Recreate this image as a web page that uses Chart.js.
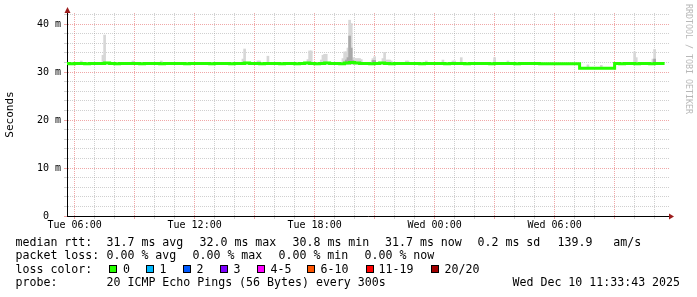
<!DOCTYPE html>
<html>
<head>
<meta charset="utf-8">
<script src="https://cdn.jsdelivr.net/npm/chart.js@4.4.1/dist/chart.umd.min.js"></script>
<style>
  html, body { margin: 0; padding: 0; background: #fff; }
  #wrap { position: relative; width: 697px; height: 297px; overflow: hidden; }
  #chart { position: absolute; left: 0; top: 0; }
  .t { position: absolute; font-family: 'DejaVu Sans Mono', monospace; font-size: 11.6px; line-height: 14px; white-space: pre; color: #000; }
  .box { position: absolute; width: 8px; height: 8px; box-sizing: border-box; border: 1px solid #000; }
  #mark { position: absolute; left: 684px; top: 4px; font-family: 'DejaVu Sans Mono', monospace; font-size: 8.3px; line-height: 9px; color: #b8b8b8; writing-mode: vertical-rl; white-space: pre; }
</style>
</head>
<body>
<div id="wrap">
  <canvas id="chart" width="697" height="297"></canvas>

  <span class="t" style="left:15.5px;top:235px">median rtt:</span>
  <span class="t" style="left:106.5px;top:235px">31.7 ms avg</span>
  <span class="t" style="left:199.5px;top:235px">32.0 ms max</span>
  <span class="t" style="left:292.5px;top:235px">30.8 ms min</span>
  <span class="t" style="left:385px;top:235px">31.7 ms now</span>
  <span class="t" style="left:477.5px;top:235px">0.2 ms sd</span>
  <span class="t" style="left:557.5px;top:235px">139.9   am/s</span>

  <span class="t" style="left:15.5px;top:248px">packet loss:</span>
  <span class="t" style="left:106.5px;top:248px">0.00 % avg</span>
  <span class="t" style="left:192.5px;top:248px">0.00 % max</span>
  <span class="t" style="left:278.5px;top:248px">0.00 % min</span>
  <span class="t" style="left:364.5px;top:248px">0.00 % now</span>

  <span class="t" style="left:15.5px;top:262px">loss color:</span>
  <div id="losses"></div>

  <span class="t" style="left:15.5px;top:275px">probe:</span>
  <span class="t" style="left:106.5px;top:275px">20 ICMP Echo Pings (56 Bytes) every 300s</span>
  <span class="t" style="left:512.5px;top:275px">Wed Dec 10 11:33:43 2025</span>

  <div id="mark">RRDTOOL / TOBI OETIKER</div>
</div>
<script>
// median rtt (ms), one value every 15 minutes starting Tue 05:30
const medianStart   = 'Tue 05:30';
const medianStepMin = 15;
const medianRtt = [
  31.8, 31.7, 31.8, 31.8, 31.7, 31.8,
  31.8, 31.8, 31.9, 31.8, 31.7, 31.8, 31.8, 31.8,
  31.8, 31.7, 31.8, 31.8, 31.8, 31.7, 31.8, 31.8,
  31.8, 31.8, 31.7, 31.8, 31.8, 31.8, 31.8, 31.7,
  31.8, 31.8, 31.8, 31.7, 31.8, 31.8, 31.9, 31.8,
  31.8, 31.7, 31.8, 31.8, 31.8, 31.7, 31.8, 31.8,
  31.7, 31.8, 31.9, 31.8, 31.7, 31.8, 31.9, 31.8,
  31.8, 31.7, 31.9, 32.0, 31.9, 31.8, 31.8, 31.7,
  31.8, 31.9, 31.8, 31.7, 31.8, 31.8, 31.8, 31.8,
  31.8, 31.7, 31.8, 31.8, 31.8, 31.8, 31.7, 31.8,
  31.8, 31.8, 31.7, 31.8, 31.8, 31.8, 31.8, 31.7,
  31.8, 31.8, 31.8, 31.8, 31.7, 31.8, 31.8, 31.8,
  31.8, 31.7, 31.7, 31.7, 31.7, 31.7, 31.7, 31.7,
  31.7,
  30.8, 30.8, 30.8, 30.8, 30.8, 30.8, 30.8,
  31.8, 31.7, 31.8, 31.8, 31.7, 31.8, 31.8, 31.7, 31.8, 31.8, 31.8,
];

// smoke: spread of the 20 pings in a 5 minute step (ms)
const smokeTimes = [
  'Tue 06:20', 'Tue 07:25', 'Tue 07:30', 'Tue 08:55', 'Tue 10:20',
  'Tue 14:25', 'Tue 14:30', 'Tue 15:10', 'Tue 15:15', 'Tue 15:40',
  'Tue 17:40', 'Tue 17:45', 'Tue 17:50', 'Tue 18:20', 'Tue 18:25',
  'Tue 18:30', 'Tue 18:35', 'Tue 19:25', 'Tue 19:30', 'Tue 19:35',
  'Tue 19:40', 'Tue 19:45', 'Tue 19:50', 'Tue 19:55', 'Tue 20:00',
  'Tue 20:05', 'Tue 20:10', 'Tue 20:15', 'Tue 20:20', 'Tue 20:55',
  'Tue 21:00', 'Tue 21:25', 'Tue 21:30', 'Tue 21:35', 'Tue 21:40',
  'Tue 21:45', 'Tue 21:50', 'Tue 22:35', 'Tue 22:40', 'Tue 23:35',
  'Wed 00:25', 'Wed 00:55', 'Wed 01:00', 'Wed 01:20', 'Wed 03:00',
  'Wed 03:40', 'Wed 05:05', 'Wed 07:40', 'Wed 08:20', 'Wed 10:00',
  'Wed 10:05', 'Wed 10:55', 'Wed 11:00',
];
const smokeLow = [
  31.7, 31.7, 31.7, 31.7, 31.7,
  31.7, 31.7, 31.7, 31.7, 31.7,
  31.7, 31.7, 31.7, 31.7, 31.7,
  31.7, 31.7, 31.7, 31.7, 31.7,
  31.7, 31.7, 31.7, 31.7, 31.7,
  31.7, 31.7, 31.7, 31.7, 31.7,
  31.7, 31.7, 31.7, 31.7, 31.7,
  31.7, 31.7, 31.7, 31.7, 31.7,
  31.7, 31.7, 31.7, 31.7, 31.7,
  31.7, 31.6, 30.8, 30.8, 31.7,
  31.7, 31.7, 31.7,
];
const smokeHigh = [
  32.3, 33.5, 37.7, 32.3, 32.3,
  32.7, 34.8, 32.3, 32.3, 33.3,
  32.6, 34.4, 34.4, 32.5, 33.5,
  33.7, 33.7, 32.8, 34.2, 34.2,
  35.0, 40.8, 40.1, 33.0, 32.8,
  32.8, 32.8, 32.8, 32.6, 32.8,
  33.2, 32.8, 34.1, 32.5, 32.5,
  32.5, 32.3, 32.3, 32.3, 32.3,
  32.5, 32.3, 32.3, 33.0, 33.0,
  32.3, 32.0, 31.5, 31.4, 34.2,
  33.0, 32.7, 34.7,
];

// denser part of the smoke (darker grey)
const coreTimes = ['Tue 19:35', 'Tue 19:40', 'Tue 19:45', 'Tue 19:50', 'Tue 19:55', 'Tue 20:55', 'Tue 21:00', 'Wed 11:00'];
const coreLow   = [31.7, 31.7, 31.7, 31.7, 31.7, 31.7, 31.7, 31.7];
const coreHigh  = [32.5, 33.0, 37.5, 35.0, 32.4, 32.4, 32.4, 32.7];

const xTickHours  = [6, 12, 18, 24, 30];
const xTickLabels = ['Tue 06:00', 'Tue 12:00', 'Tue 18:00', 'Wed 00:00', 'Wed 06:00'];
const yTickValues = [0, 10, 20, 30, 40];
const yTickLabels = ['0  ', '10 m', '20 m', '30 m', '40 m'];

const lossLabels = ['0', '1', '2', '3', '4-5', '6-10', '11-19', '20/20'];
const lossColors = ['#26ff00', '#00b8ff', '#0059ff', '#7e00ff', '#ff00ff', '#ff5500', '#ff0000', '#a10000'];

const FONT  = 'DejaVu Sans Mono';
const GRID  = 'rgba(150,150,150,0.45)';
const MGRID = 'rgba(225,80,80,0.5)';

function toHours(s) {
  const [day, hm] = s.split(' ');
  const [h, m] = hm.split(':').map(Number);
  return (day === 'Wed' ? 24 : 0) + h + m / 60;
}

// loss colour legend
const boxX   = [108.5, 145.5, 182.5, 219.5, 256.5, 306.5, 365.5, 430.5];
const labelX = [123, 159.5, 196.5, 233.5, 270.5, 320.5, 378.5, 444.5];
document.getElementById('losses').innerHTML = lossLabels.map((l, i) => `
  <div class="box" style="left:${boxX[i]}px;top:265px;background:${lossColors[i]}"></div>
  <span class="t" style="left:${labelX[i]}px;top:262px">${l}</span>
`).join('');

const t0 = toHours(medianStart);
const medianPts = medianRtt.map((v, i) => ({ x: t0 + i * medianStepMin / 60, y: v }));
const smokePts  = smokeTimes.map((t, i) => ({ x: toHours(t), y: [smokeLow[i], smokeHigh[i]] }));
const corePts   = coreTimes.map((t, i) => ({ x: toHours(t), y: [coreLow[i], coreHigh[i]] }));

const axisArrows = {
  id: 'axisArrows',
  afterDraw(chart) {
    const { ctx, chartArea: a } = chart;
    const x0 = Math.round(a.left) + 0.5;
    const y0 = Math.round(a.bottom) + 0.5;
    ctx.save();
    ctx.strokeStyle = '#000';
    ctx.lineWidth = 1;
    ctx.beginPath();
    ctx.moveTo(x0, a.top); ctx.lineTo(x0, a.top - 2);
    ctx.moveTo(a.right, y0); ctx.lineTo(a.right + 2, y0);
    ctx.stroke();
    ctx.fillStyle = '#9c1c1c';
    ctx.beginPath();
    ctx.moveTo(x0, a.top - 6); ctx.lineTo(x0 - 3, a.top); ctx.lineTo(x0 + 3, a.top);
    ctx.closePath(); ctx.fill();
    ctx.beginPath();
    ctx.moveTo(a.right + 5, y0); ctx.lineTo(a.right, y0 - 3); ctx.lineTo(a.right, y0 + 3);
    ctx.closePath(); ctx.fill();
    ctx.restore();
  }
};

const xColor = c => (c.tick && c.tick.value % 3 === 0 ? MGRID : GRID);
const yColor = c => (c.tick && c.tick.value % 10 === 0 ? MGRID : GRID);

new Chart(document.getElementById('chart'), {
  type: 'line',
  data: {
    datasets: [
      { type: 'line', data: medianPts, borderColor: '#26ff00', borderWidth: 3, pointRadius: 0,
        stepped: true, borderCapStyle: 'butt', order: 1 },
      { type: 'bar', data: corePts, backgroundColor: '#a9a9a9', barThickness: 2, grouped: false, order: 2 },
      { type: 'bar', data: smokePts, backgroundColor: '#d7d7d7', barThickness: 2, grouped: false, order: 3 },
    ],
  },
  options: {
    responsive: false,
    animation: false,
    devicePixelRatio: 1,
    layout: { padding: { top: 13, right: 28, bottom: 61, left: 0 } },
    plugins: { legend: { display: false }, tooltip: { enabled: false } },
    scales: {
      x: {
        type: 'linear', min: 5.62, max: 35.72, offset: false,
        grid: { offset: false, color: xColor, tickColor: xColor, tickLength: 3 },
        border: { color: '#000', width: 1, dash: [1, 1] },
        ticks: {
          stepSize: 1, autoSkip: false, maxRotation: 0, includeBounds: false, maxTicksLimit: 100,
          padding: 0, color: '#000', font: { family: FONT, size: 10 },
          callback: v => { const k = xTickHours.indexOf(v); return k >= 0 ? xTickLabels[k] : ''; },
        },
        afterFit: s => { s.height = 20; },
      },
      y: {
        min: 0, max: 42.3,
        grid: { color: yColor, tickColor: yColor, tickLength: 3 },
        border: { color: '#000', width: 1, dash: [1, 1] },
        ticks: {
          stepSize: 2, autoSkip: false, includeBounds: false, maxTicksLimit: 100,
          padding: 3, color: '#000', font: { family: FONT, size: 10 },
          callback: v => { const k = yTickValues.indexOf(v); return k >= 0 ? yTickLabels[k] : ''; },
        },
        title: { display: true, text: 'Seconds', color: '#000', font: { family: FONT, size: 11 }, padding: { top: 4, bottom: 0 } },
        afterFit: s => { s.width = 67; },
      },
    },
  },
  plugins: [axisArrows],
});
</script>
</body>
</html>
